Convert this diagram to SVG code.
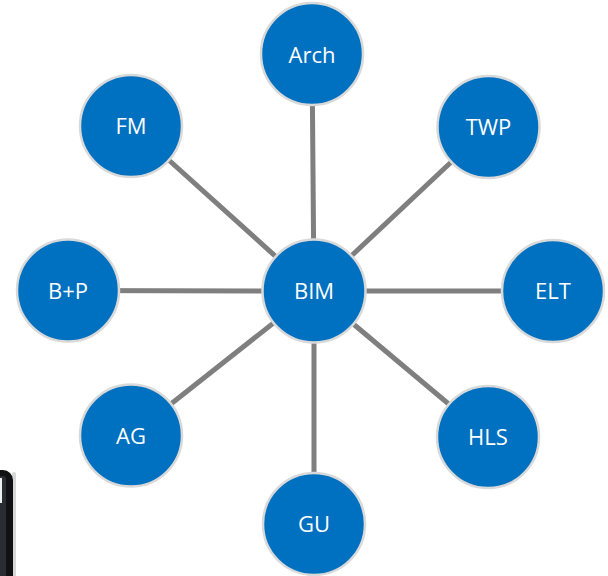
<svg xmlns="http://www.w3.org/2000/svg" width="608" height="576" viewBox="0 0 608 576">
<style>
.n circle{fill:#0070c0;stroke:#d9d9d9;stroke-width:2.5}
.n text{fill:#ffffff;font-family:"Open Sans","Noto Sans",sans-serif;font-size:22px;text-anchor:middle}
.c line{stroke:#7f7f7f;stroke-width:5}
</style>
<rect width="608" height="576" fill="#ffffff"/>
<g id="device">
<rect x="12" y="472" width="4" height="110" rx="2" fill="#bdbdbd" opacity="0.6"/>
<rect x="-30" y="470" width="43" height="120" rx="10" fill="#111114"/>
<rect x="-30" y="476" width="36" height="120" rx="3" fill="#2a2c33"/>
<rect x="-30" y="478" width="32" height="25" fill="#eeeeee"/>
</g>
<g class="c" id="connectors">
<line x1="314" y1="291" x2="312" y2="54"/>
<line x1="314" y1="291" x2="488.5" y2="127"/>
<line x1="314" y1="291" x2="553" y2="291"/>
<line x1="314" y1="291" x2="488" y2="437"/>
<line x1="314" y1="291" x2="314" y2="524"/>
<line x1="314" y1="291" x2="131" y2="435.5"/>
<line x1="314" y1="291" x2="68" y2="290.5"/>
<line x1="314" y1="291" x2="131" y2="126"/>
</g>
<g class="n" id="BIM"><circle cx="314" cy="291" r="51.5"/><text x="314" y="299">BIM</text></g>
<g class="n" id="Arch"><circle cx="312" cy="54" r="51"/><text x="312" y="63">Arch</text></g>
<g class="n" id="TWP"><circle cx="488.5" cy="127" r="51"/><text x="488.5" y="135">TWP</text></g>
<g class="n" id="ELT"><circle cx="553" cy="291" r="51"/><text x="553" y="299">ELT</text></g>
<g class="n" id="HLS"><circle cx="488" cy="437" r="51"/><text x="488" y="445">HLS</text></g>
<g class="n" id="GU"><circle cx="314" cy="524" r="51"/><text x="314" y="532">GU</text></g>
<g class="n" id="AG"><circle cx="131" cy="435.5" r="51"/><text x="131" y="443.5">AG</text></g>
<g class="n" id="BP"><circle cx="68" cy="290.5" r="51"/><text x="68" y="298.5">B+P</text></g>
<g class="n" id="FM"><circle cx="131" cy="126" r="51"/><text x="131" y="134">FM</text></g>
</svg>
